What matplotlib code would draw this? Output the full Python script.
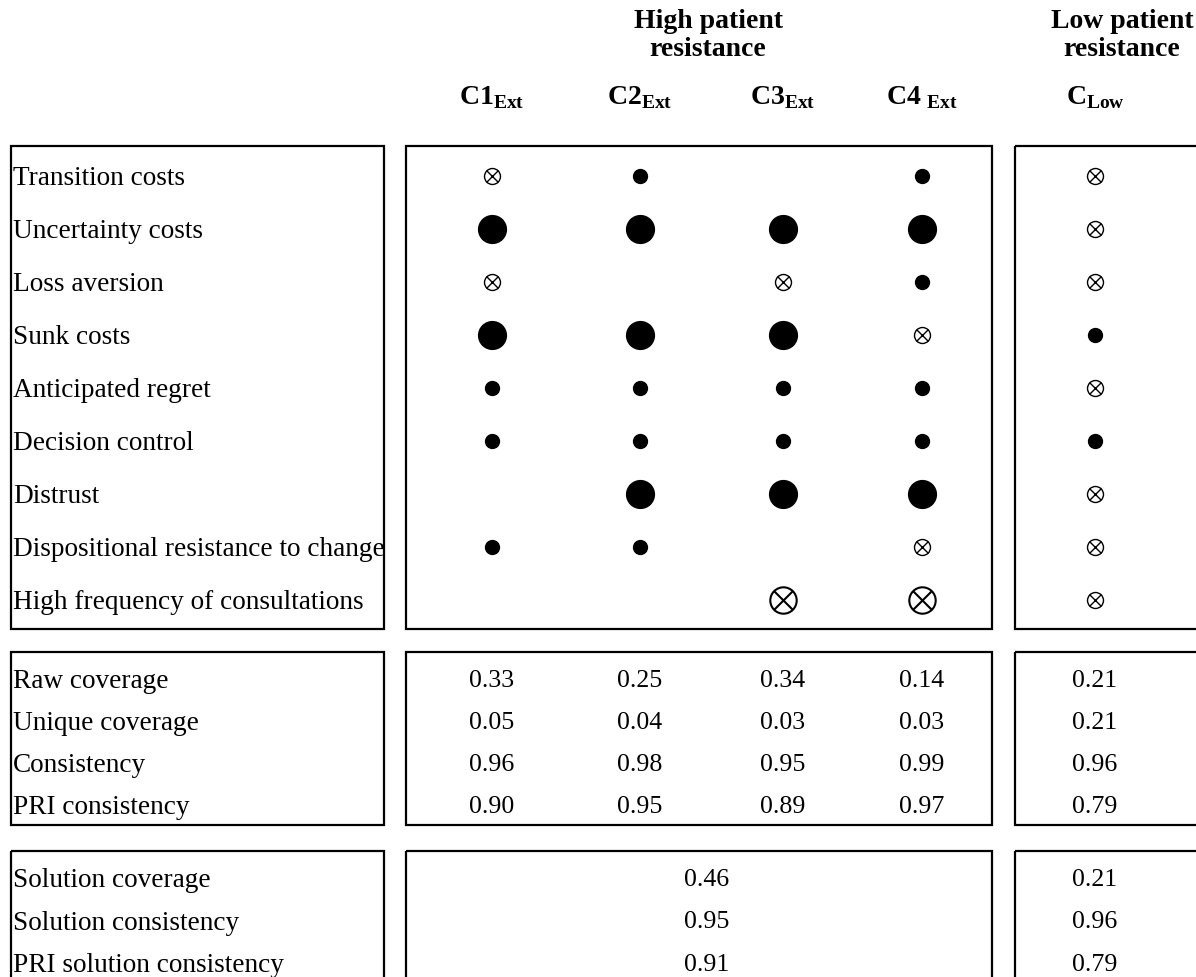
import matplotlib.pyplot as plt
from matplotlib.patches import Rectangle

plt.rcParams['font.family'] = ['Liberation Serif', 'DejaVu Serif']
plt.rcParams['mathtext.fontset'] = 'custom'
plt.rcParams['mathtext.rm'] = 'Liberation Serif'
plt.rcParams['mathtext.bf'] = 'Liberation Serif:bold'

# data
conditions = ['Transition costs', 'Uncertainty costs', 'Loss aversion', 'Sunk costs',
              'Anticipated regret', 'Decision control', 'Distrust',
              'Dispositional resistance to change', 'High frequency of consultations']
configs = [r'$\mathbf{C1}_{\mathbf{Ext}}$', r'$\mathbf{C2}_{\mathbf{Ext}}$',
           r'$\mathbf{C3}_{\mathbf{Ext}}$', r'$\mathbf{C4}_{\ \mathbf{Ext}}$',
           r'$\mathbf{C}_{\mathbf{Low}}$']
# 2 = core present, 1 = peripheral present, -1 = peripheral absent, -2 = core absent, 0 = blank
c1_ext = [-1, 2, -1, 2, 1, 1, 0, 1, 0]
c2_ext = [1, 2, 0, 2, 1, 1, 2, 1, 0]
c3_ext = [0, 2, -1, 2, 1, 1, 2, 0, -2]
c4_ext = [1, 2, 1, -1, 1, 1, 2, -1, -2]
c_low = [-1, -1, -1, 1, -1, 1, -1, -1, -1]

stat_labels = ['Raw coverage', 'Unique coverage', 'Consistency', 'PRI consistency']
raw_cov = ['0.33', '0.25', '0.34', '0.14', '0.21']
unique_cov = ['0.05', '0.04', '0.03', '0.03', '0.21']
consistency = ['0.96', '0.98', '0.95', '0.99', '0.96']
pri_cons = ['0.90', '0.95', '0.89', '0.97', '0.79']

sol_labels = ['Solution coverage', 'Solution consistency', 'PRI solution consistency']
sol_high = ['0.46', '0.95', '0.91']
sol_low = ['0.21', '0.96', '0.79']

# layout (pixels)
col_x = [492, 640, 783, 922, 1095]
row_y0, row_dy = 177, 53
stat_y0, stat_dy = 680, 42
sol_y0, sol_dy = 879, 42.5
fs = 19.6

fig = plt.figure(figsize=(11.96, 9.78), dpi=100)
ax = fig.add_axes([0, 0, 1, 1])
ax.set_xlim(0, 1196)
ax.set_ylim(978, 0)
ax.axis('off')

# boxes
def box(x0, y0, x1, y1):
    ax.add_patch(Rectangle((x0, y0), x1 - x0, y1 - y0, fill=False, lw=1.6, ec='black'))

for (y0, y1) in [(147, 630), (653, 826), (852, 995)]:
    box(11, y0, 384, y1)
    box(406, y0, 992, y1)
    box(1015, y0, 1230, y1)

# headers
ax.text(708, 22, 'High patient', ha='center', va='center', fontsize=fs + 0.4, fontweight='bold')
ax.text(708, 50, 'resistance', ha='center', va='center', fontsize=fs + 0.4, fontweight='bold')
ax.text(1122, 22, 'Low patient', ha='center', va='center', fontsize=fs + 0.4, fontweight='bold')
ax.text(1122, 50, 'resistance', ha='center', va='center', fontsize=fs + 0.4, fontweight='bold')
for x, lab in zip(col_x, configs):
    ax.text(x, 98, lab, ha='center', va='center', fontsize=fs + 0.4)

# condition rows
columns = [c1_ext, c2_ext, c3_ext, c4_ext, c_low]
for i, cond in enumerate(conditions):
    y = row_y0 + i * row_dy
    ax.text(13, y + 8, cond, ha='left', va='baseline', fontsize=fs)
    for x, col in zip(col_x, columns):
        v = col[i]
        if v == 0:
            continue
        if v > 0:
            ms = 20 if v == 2 else 10
            ax.plot(x, y, 'o', ms=ms, mfc='black', mec='black')
        else:
            ms = 19 if v == -2 else 11.5
            lw = 1.5 if v == -2 else 1.0
            ax.plot(x, y, 'o', ms=ms, mfc='none', mec='black', mew=lw)
            ax.plot(x, y, 'x', ms=ms * 0.72, mec='black', mew=lw)

# stats rows
stats = [raw_cov, unique_cov, consistency, pri_cons]
for i, (lab, vals) in enumerate(zip(stat_labels, stats)):
    y = stat_y0 + i * stat_dy
    ax.text(13, y + 8, lab, ha='left', va='baseline', fontsize=fs)
    for x, v in zip(col_x, vals):
        ax.text(x, y + 7, v, ha='center', va='baseline', fontsize=fs - 1)

# solution rows
for i, lab in enumerate(sol_labels):
    y = sol_y0 + i * sol_dy
    ax.text(13, y + 8, lab, ha='left', va='baseline', fontsize=fs)
    ax.text(707, y + 7, sol_high[i], ha='center', va='baseline', fontsize=fs - 1)
    ax.text(col_x[4], y + 7, sol_low[i], ha='center', va='baseline', fontsize=fs - 1)

fig.savefig('out.png', dpi=100)
